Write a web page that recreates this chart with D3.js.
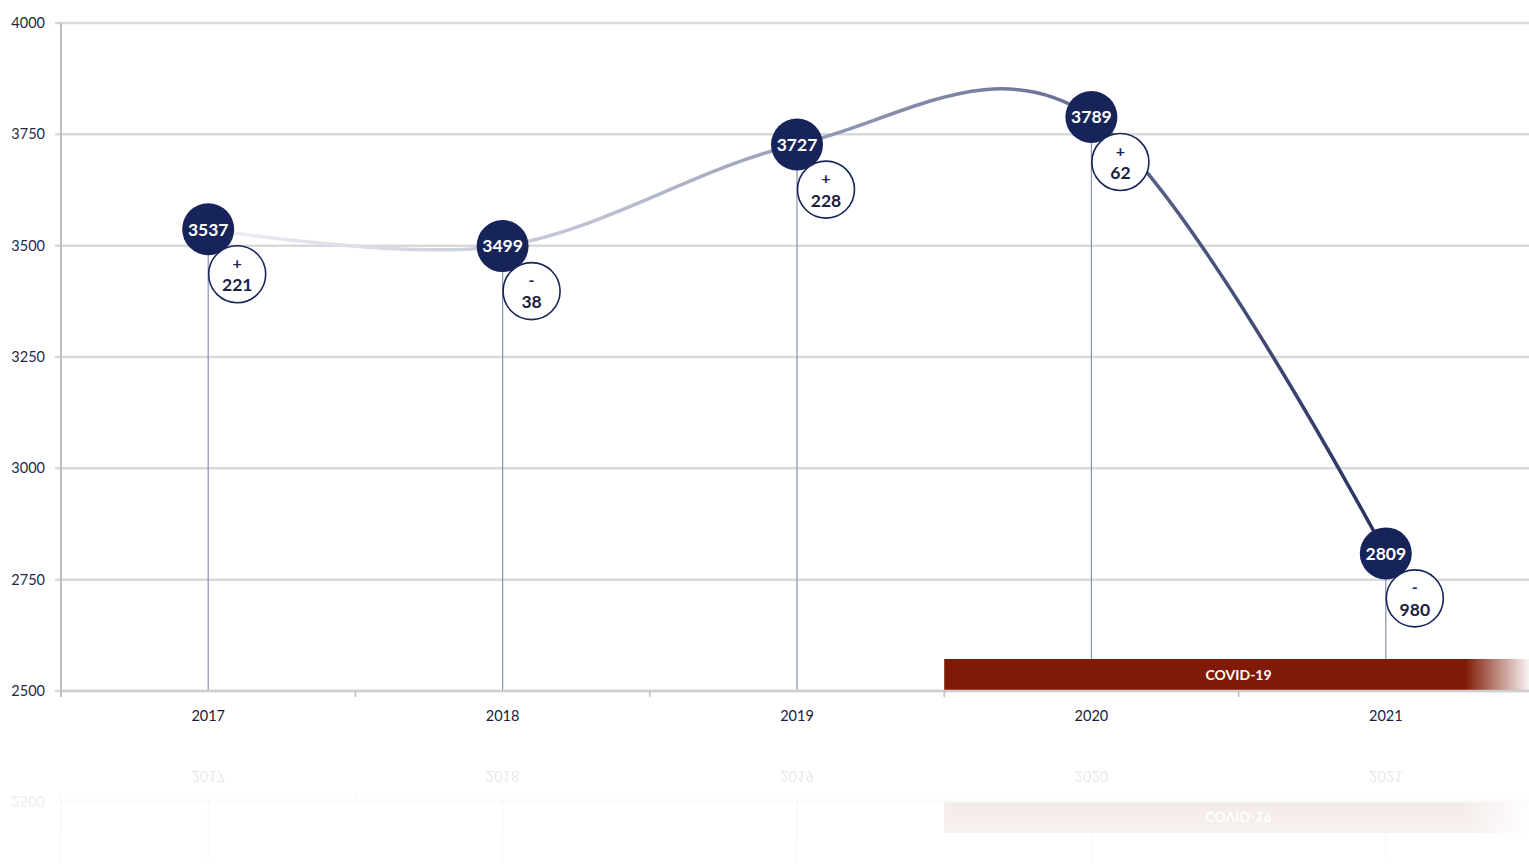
<!DOCTYPE html>
<html><head><meta charset="utf-8">
<script src="https://cdn.jsdelivr.net/npm/d3@7/dist/d3.min.js"></script>
<style>html,body{margin:0;padding:0;background:#fff;overflow:hidden}</style>
</head><body>
<svg id="svg" width="1529" height="864"></svg>
<script>
const years = ["2017","2018","2019","2020","2021"];
const values = [3537,3499,3727,3789,2809];
const deltaSigns = ["+","-","+","+","-"];
const deltaValues = [221,38,228,62,980];
const yTicks = [2500,2750,3000,3250,3500,3750,4000];
const covidLabel = "COVID-19";
const covidStartYear = "2020";

const W = 1529, H = 864;
const svg = d3.select("#svg");
const defs = svg.append("defs");
const x = d3.scaleBand().domain(years).range([61, 1533]).padding(0);
const y = d3.scaleLinear().domain([2500, 4000]).range([691, 23]);
const cx = d => x(d) + x.bandwidth()/2;
const font = "Lato, 'Open Sans', sans-serif";
const navy = "#172459";

// gradients
const lg = defs.append("linearGradient").attr("id","lineGrad").attr("gradientUnits","userSpaceOnUse")
  .attr("x1", cx(years[0])).attr("x2", cx(years[4])).attr("y1",0).attr("y2",0);
lg.append("stop").attr("offset","0").attr("stop-color","#eef0f4");
lg.append("stop").attr("offset","0.35").attr("stop-color","#b9bdd0");
lg.append("stop").attr("offset","0.7").attr("stop-color","#6e7699");
lg.append("stop").attr("offset","1").attr("stop-color","#26315f");

const cg = defs.append("linearGradient").attr("id","covGrad").attr("x1","0").attr("x2","1");
cg.append("stop").attr("offset","0").attr("stop-color","#7e1a05");
cg.append("stop").attr("offset","0.89").attr("stop-color","#7e1a05");
cg.append("stop").attr("offset","1").attr("stop-color","#7e1a05").attr("stop-opacity","0.05");

const rg = defs.append("linearGradient").attr("id","reflGrad").attr("gradientUnits","userSpaceOnUse")
  .attr("x1",0).attr("x2",0).attr("y1",746).attr("y2",864);
rg.append("stop").attr("offset","0").attr("stop-color","#fff").attr("stop-opacity","0.13");
rg.append("stop").attr("offset","1").attr("stop-color","#fff").attr("stop-opacity","0.04");
defs.append("mask").attr("id","reflMask").attr("maskUnits","userSpaceOnUse")
  .attr("x",0).attr("y",0).attr("width",W).attr("height",H)
  .append("rect").attr("x",0).attr("y",746).attr("width",W).attr("height",H-746).attr("fill","url(#reflGrad)");

const main = svg.append("g").attr("id","main");

// gridlines
main.append("g").selectAll("line").data(yTicks).join("line")
  .attr("x1", 55).attr("x2", W).attr("y1", d=>y(d)).attr("y2", d=>y(d))
  .attr("stroke", "#d9d9d9").attr("stroke-width", 2.5);

// y labels
main.append("g").selectAll("text").data(yTicks).join("text")
  .attr("x", 45).attr("y", d=>y(d)).attr("dy","0.35em").attr("text-anchor","end")
  .attr("font-family", font).attr("font-size", 14.5).attr("fill", "#1f2a4a").text(d=>d);

// y axis line
main.append("line").attr("x1",61).attr("x2",61).attr("y1",y(4000)).attr("y2",y(2500)+6)
  .attr("stroke","#bfbfbf").attr("stroke-width",2);

// drop lines
main.append("g").selectAll("line").data(years).join("line")
  .attr("x1",d=>cx(d)).attr("x2",d=>cx(d)).attr("y1",(d,i)=>y(values[i])).attr("y2",y(2500))
  .attr("stroke","#8791b3").attr("stroke-width",1.2);

// covid bar
const covX = x(covidStartYear);
main.append("rect").attr("x", covX).attr("y", 659).attr("width", W - covX).attr("height", 31)
  .attr("fill","url(#covGrad)");
main.append("text").attr("x", x(covidStartYear) + x.bandwidth()).attr("y", 675).attr("dy","0.35em")
  .attr("text-anchor","middle").attr("font-family",font).attr("font-weight","bold")
  .attr("font-size",14).attr("fill","#fff").text(covidLabel);

// x axis
main.append("line").attr("x1",61).attr("x2",W).attr("y1",y(2500)).attr("y2",y(2500))
  .attr("stroke","#cfcfcf").attr("stroke-width",2.5);
const boundaries = years.map(d=>x(d)).concat([x(years[4])+x.bandwidth()]);
main.append("g").selectAll("line").data(boundaries).join("line")
  .attr("x1",d=>d).attr("x2",d=>d).attr("y1",y(2500)).attr("y2",y(2500)+6)
  .attr("stroke","#bfbfbf").attr("stroke-width",1.5);
main.append("g").selectAll("text").data(years).join("text")
  .attr("x", d=>cx(d)).attr("y", 716).attr("dy","0.35em").attr("text-anchor","middle")
  .attr("font-family",font).attr("font-size",14.5).attr("fill","#1a2040").text(d=>d);

// curve
const pts = years.map((d,i)=>[cx(d), y(values[i])]);
main.append("path").attr("d", d3.line().curve(d3.curveCardinal.tension(0))(pts))
  .attr("fill","none").attr("stroke","url(#lineGrad)").attr("stroke-width",3.5);

// value circles
const vg = main.append("g").selectAll("g").data(years).join("g")
  .attr("transform",(d,i)=>`translate(${cx(d)},${y(values[i])})`);
vg.append("circle").attr("r",26).attr("fill",navy);
vg.append("text").attr("dy","0.36em").attr("text-anchor","middle").attr("font-family",font)
  .attr("font-weight","bold").attr("font-size",17.5).attr("fill","#fff").text((d,i)=>values[i]);

// delta circles
const dg = main.append("g").selectAll("g").data(years).join("g")
  .attr("transform",(d,i)=>`translate(${cx(d)+29},${y(values[i])+45})`);
dg.append("circle").attr("r",28.5).attr("fill","#fff").attr("stroke",navy).attr("stroke-width",1.6);
dg.append("text").attr("y",-11).attr("dy","0.36em").attr("text-anchor","middle").attr("font-family",font)
  .attr("font-weight","bold").attr("font-size",16).attr("fill",navy).text((d,i)=>deltaSigns[i]);
dg.append("text").attr("y",11).attr("dy","0.36em").attr("text-anchor","middle").attr("font-family",font)
  .attr("font-weight","bold").attr("font-size",17.5).attr("fill","#1a2040").text((d,i)=>deltaValues[i]);

// reflection
svg.append("g").attr("mask","url(#reflMask)")
  .append("use").attr("href","#main").attr("transform","translate(0,1492) scale(1,-1)");
</script>
</body></html>
